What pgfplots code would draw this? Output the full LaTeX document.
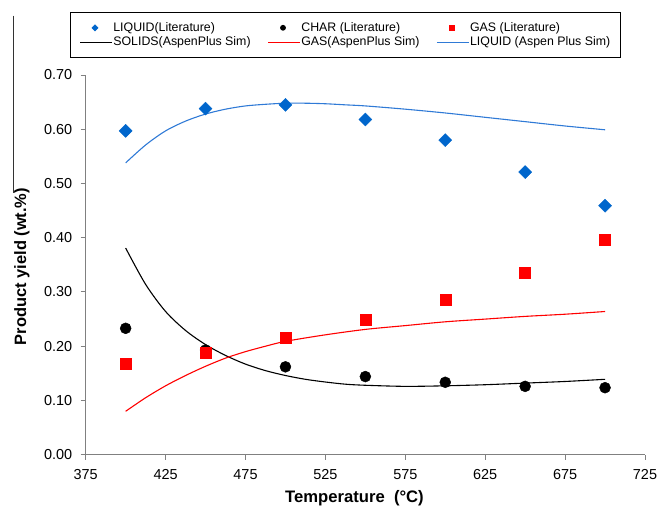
\documentclass[border=0pt]{standalone}
\usepackage{fontspec}
\setmainfont{Liberation Sans}
\usepackage{pgfplots}
\pgfplotsset{compat=1.18}
\definecolor{liqblue}{HTML}{0066CC}
\definecolor{linblue}{HTML}{2F7AD6}
\definecolor{axgray}{HTML}{808080}
\pgfplotsset{
  linleg/.style={legend image code/.code={\draw[##1, draw=#1, line width=1.1pt] (0bp,0bp) -- (32bp,0bp);}},
  markleg/.style={legend image code/.code={\draw[##1, every mark/.append style={scale=0.45}] plot coordinates {(15bp,0bp)};}},
}
\begin{document}
\begin{tikzpicture}
\path[use as bounding box] (-85.7bp,-52.3bp) rectangle (571.3bp,454.7bp);
\draw[black!80, line width=0.8pt] (-72.7bp,439bp) -- (-72.7bp,262bp);
\begin{axis}[
  scale only axis,
  width=559.3bp, height=379.7bp,
  xmin=375, xmax=725, ymin=0, ymax=0.7,
  xtick={375,425,...,725},
  ytick={0,0.1,...,0.71},
  axis x line*=bottom, axis y line*=left,
  axis line style={draw=axgray, line width=1pt},
  tick style={draw=axgray, line width=1pt},
  tick align=outside, major tick length=5bp,
  /pgf/number format/assume math mode=true,
  yticklabel style={xshift=-5bp, /pgf/number format/.cd, fixed, fixed zerofill, precision=2},
  xticklabel style={yshift=-6bp, /pgf/number format/.cd, fixed, precision=0},
  tick label style={font=\fontsize{14.5}{16}\selectfont},
  xlabel={\textbf{Temperature\ \ (°C)}},
  ylabel={\textbf{Product yield (wt.\%)}},
  xlabel style={font=\fontsize{16.7}{18}\selectfont, at={(axis description cs:0.4806,-0.1272)}, anchor=base},
  ylabel style={font=\fontsize{16.5}{18}\selectfont, at={(axis description cs:-0.1067,0.4957)}, anchor=base},
  legend columns=3,
  legend cell align=left,
  legend style={at={(0.464,1.166)}, anchor=north, draw=black, line width=0.8pt,
    font=\fontsize{12.4}{14}\selectfont, inner xsep=9bp, inner ysep=9bp,
    row sep=1.5bp,
    nodes={inner xsep=0.8bp, inner ysep=1.2bp},
    /tikz/every even column/.append style={column sep=16bp}},
]
\addplot[only marks, mark=square*, mark options={rotate=45, fill=liqblue, draw=liqblue}, mark size=4.6bp, markleg]
coordinates {(400,0.597) (450,0.638) (500,0.645) (550,0.618) (600,0.580) (650,0.521) (700,0.459)};
\addlegendentry{LIQUID(Literature)}
\addplot[only marks, mark=*, mark options={fill=black, draw=black}, mark size=5.5bp, markleg]
coordinates {(400,0.233) (450,0.193) (500,0.162) (550,0.144) (600,0.1335) (650,0.126) (700,0.1235)};
\addlegendentry{CHAR (Literature)}
\addplot[only marks, mark=square*, mark options={fill=red, draw=red}, mark size=5.5bp, markleg]
coordinates {(400,0.168) (450,0.188) (500,0.216) (550,0.248) (600,0.2865) (650,0.3356) (700,0.397)};
\addlegendentry{GAS (Literature)}
\addplot[black, line width=1.1pt, smooth, tension=0.5, no marks, linleg=black]
coordinates {(400,0.381) (412.5,0.314) (425,0.264) (437.5,0.229) (450,0.203) (462.5,0.183) (475,0.167) (487.5,0.155) (500,0.146) (512.5,0.139) (525,0.134) (537.5,0.130) (550,0.128) (575,0.126) (600,0.127) (625,0.129) (650,0.132) (675,0.135) (700,0.139)};
\addlegendentry{SOLIDS(AspenPlus Sim)}
\addplot[red, line width=1.1pt, smooth, tension=0.5, no marks, linleg=red]
coordinates {(400,0.080) (412.5,0.105) (425,0.127) (437.5,0.146) (450,0.163) (462.5,0.178) (475,0.190) (487.5,0.200) (500,0.209) (525,0.221) (550,0.231) (575,0.238) (600,0.245) (625,0.250) (650,0.255) (675,0.259) (700,0.264)};
\addlegendentry{GAS(AspenPlus Sim)}
\addplot[linblue, line width=1.1pt, smooth, tension=0.5, no marks, linleg=linblue]
coordinates {(400,0.538) (412.5,0.571) (425,0.597) (437.5,0.615) (450,0.628) (462.5,0.637) (475,0.643) (487.5,0.646) (500,0.648) (512.5,0.648) (525,0.647) (537.5,0.645) (550,0.643) (575,0.637) (600,0.630) (625,0.622) (650,0.614) (675,0.606) (700,0.599)};
\addlegendentry{LIQUID (Aspen Plus Sim)}
\end{axis}
\end{tikzpicture}
\end{document}
